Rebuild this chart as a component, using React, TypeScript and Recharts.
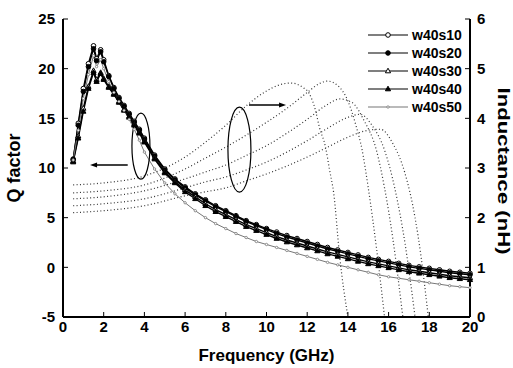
import React from 'react';
import {
  ComposedChart, Line, XAxis, YAxis, Legend, Label, ReferenceDot, ReferenceLine,
} from 'recharts';

const FONT = '"Liberation Sans", Arial, sans-serif';

// Q factor
const qFreq = [0.5, 0.75, 1, 1.25, 1.5, 1.65, 1.85, 2, 2.25, 2.5, 2.75, 3, 3.25, 3.5, 3.75, 4, 4.5, 5, 5.5, 6, 6.5, 7, 7.5, 8, 8.5, 9, 9.5, 10, 10.5, 11, 11.5, 12, 12.5, 13, 13.5, 14, 14.5, 15, 15.5, 16, 16.5, 17, 17.5, 18, 18.5, 19, 19.5, 20];
const qS10 = [10.8, 14.5, 18.0, 20.5, 22.3, 21.0, 21.9, 20.9, 19.3, 18.1, 17.1, 16.3, 15.5, 14.7, 13.9, 13.0, 11.3, 9.9, 8.9, 8.1, 7.4, 6.8, 6.2, 5.7, 5.2, 4.7, 4.3, 3.9, 3.55, 3.2, 2.9, 2.6, 2.3, 2.0, 1.75, 1.5, 1.25, 1.0, 0.8, 0.6, 0.4, 0.2, 0.05, -0.1, -0.25, -0.4, -0.5, -0.6];
const qS20 = [10.9, 14.3, 17.7, 20.2, 22.0, 20.8, 21.7, 20.7, 19.2, 18.0, 17.0, 16.2, 15.4, 14.6, 13.8, 12.9, 11.2, 9.8, 8.8, 8.0, 7.3, 6.7, 6.1, 5.6, 5.1, 4.6, 4.2, 3.8, 3.4, 3.05, 2.75, 2.45, 2.15, 1.85, 1.6, 1.35, 1.1, 0.85, 0.65, 0.45, 0.25, 0.05, -0.1, -0.25, -0.4, -0.55, -0.65, -0.75];
const qS30 = [10.7, 13.2, 16.0, 18.2, 19.8, 18.9, 19.6, 19.0, 18.2, 17.5, 16.7, 15.9, 15.2, 14.4, 13.6, 12.7, 11.0, 9.6, 8.6, 7.8, 7.1, 6.4, 5.8, 5.3, 4.8, 4.3, 3.9, 3.5, 3.1, 2.75, 2.45, 2.15, 1.85, 1.55, 1.3, 1.05, 0.8, 0.55, 0.35, 0.15, -0.05, -0.25, -0.4, -0.55, -0.7, -0.85, -0.95, -1.05];
const qS40 = [10.6, 13.0, 15.7, 18.0, 19.6, 18.7, 19.5, 18.9, 18.1, 17.4, 16.6, 15.8, 15.1, 14.3, 13.5, 12.6, 10.9, 9.5, 8.5, 7.6, 6.9, 6.2, 5.6, 5.1, 4.6, 4.1, 3.7, 3.3, 2.9, 2.55, 2.25, 1.95, 1.65, 1.35, 1.1, 0.85, 0.6, 0.35, 0.15, -0.05, -0.25, -0.45, -0.6, -0.75, -0.9, -1.05, -1.15, -1.25];
const qS50 = [10.8, 13.8, 17.0, 19.4, 21.3, 20.2, 20.9, 20.0, 18.7, 17.6, 16.7, 15.8, 14.9, 13.9, 12.8, 11.6, 9.9, 8.5, 7.4, 6.5, 5.7, 5.0, 4.4, 3.9, 3.4, 3.0, 2.6, 2.3, 2.0, 1.7, 1.4, 1.1, 0.8, 0.5, 0.25, 0.0, -0.25, -0.5, -0.75, -0.95, -1.1, -1.25, -1.4, -1.55, -1.7, -1.85, -1.95, -2.05];

// Inductance (nH)
const lFreq10 = [0.5, 2, 4, 6, 7, 8, 9, 10, 10.6, 11.2, 11.8, 12.1, 12.4, 12.6, 12.9, 13.1, 13.3, 13.6, 14.0];
const lS10 = [2.66, 2.70, 2.84, 3.22, 3.52, 3.86, 4.25, 4.55, 4.67, 4.71, 4.62, 4.5, 4.17, 3.82, 3.42, 2.96, 2.5, 1.2, 0];
const lFreq20 = [0.5, 2, 4, 6, 7, 8, 9, 10, 11, 12, 12.6, 13.0, 13.5, 14.0, 14.4, 14.7, 15.0, 15.4, 15.8];
const lS20 = [2.50, 2.54, 2.66, 2.98, 3.2, 3.42, 3.66, 3.92, 4.2, 4.52, 4.70, 4.75, 4.66, 4.35, 3.85, 3.36, 2.6, 1.4, 0];
const lFreq30 = [0.5, 2, 4, 6, 7, 8, 9, 10, 11, 12, 13, 13.6, 14.2, 14.8, 15.4, 15.8, 16.2, 16.7];
const lS30 = [2.38, 2.42, 2.54, 2.78, 2.92, 3.06, 3.25, 3.45, 3.7, 3.98, 4.28, 4.39, 4.32, 3.95, 3.36, 2.6, 1.6, 0];
const lFreq40 = [0.5, 2, 4, 6, 7, 8, 9, 10, 11, 12, 13, 14, 14.6, 15.2, 15.8, 16.3, 16.8, 17.3];
const lS40 = [2.24, 2.28, 2.38, 2.60, 2.72, 2.82, 2.96, 3.12, 3.32, 3.55, 3.8, 4.02, 4.08, 3.85, 3.36, 2.6, 1.5, 0];
const lFreq50 = [0.5, 2, 4, 6, 7, 8, 9, 10, 11, 12, 13, 14, 15, 15.6, 16.2, 16.8, 17.3, 17.6, 17.95];
const lS50 = [2.10, 2.14, 2.24, 2.44, 2.52, 2.60, 2.74, 2.88, 3.04, 3.22, 3.42, 3.62, 3.76, 3.78, 3.5, 2.9, 2.0, 1.2, 0];

const seriesNames = ['w40s10', 'w40s20', 'w40s30', 'w40s40', 'w40s50'];

const freqTicks = [0, 2, 4, 6, 8, 10, 12, 14, 16, 18, 20];
const freqMinor = [1, 3, 5, 7, 9, 11, 13, 15, 17, 19];
const qTicks = [-5, 0, 5, 10, 15, 20, 25];
const qMinor = [-2.5, 2.5, 7.5, 12.5, 17.5, 22.5];
const lTicks = [0, 1, 2, 3, 4, 5, 6];
const lMinor = [0.5, 1.5, 2.5, 3.5, 4.5, 5.5];

const qData = qFreq.map((f, i) => ({
  f, s10: qS10[i], s20: qS20[i], s30: qS30[i], s40: qS40[i], s50: qS50[i],
}));
const lData = (fs: number[], vs: number[]) => fs.map((f, i) => ({ f, l: vs[i] }));
const inductance = [
  lData(lFreq10, lS10), lData(lFreq20, lS20), lData(lFreq30, lS30),
  lData(lFreq40, lS40), lData(lFreq50, lS50),
];

type Mark = 'circleOpen' | 'circle' | 'triOpen' | 'tri' | 'small';
const marks: Mark[] = ['circleOpen', 'circle', 'triOpen', 'tri', 'small'];
const qKeys = ['s10', 's20', 's30', 's40', 's50'];

const marker = (kind: Mark, cx: number, cy: number, key?: React.Key) => {
  const ink = kind === 'small' ? '#777' : '#000';
  if (kind === 'circleOpen' || kind === 'circle') {
    return <circle key={key} cx={cx} cy={cy} r={2.3} fill={kind === 'circle' ? '#000' : '#fff'} stroke={ink} strokeWidth={1} />;
  }
  if (kind === 'triOpen' || kind === 'tri') {
    return (
      <path key={key} d={`M${cx},${cy - 2.8}L${cx + 2.6},${cy + 1.8}L${cx - 2.6},${cy + 1.8}Z`}
        fill={kind === 'tri' ? '#000' : '#fff'} stroke={ink} strokeWidth={1} />
    );
  }
  return <circle key={key} cx={cx} cy={cy} r={1.2} fill="#fff" stroke={ink} strokeWidth={0.8} />;
};

const dotFor = (kind: Mark) => (p: any) => marker(kind, p.cx, p.cy, `${kind}-${p.index}`);

const tickStyle = { fill: '#000', fontSize: 15, fontWeight: 700, fontFamily: FONT };
const axisLine = { stroke: '#000', strokeWidth: 2 };

const LegendBox = () => (
  <svg width={110} height={92} style={{ display: 'block' }}>
    {seriesNames.map((name, i) => {
      const y = 9 + i * 18;
      const ink = i === 4 ? '#777' : '#000';
      return (
        <g key={name}>
          <line x1={6} x2={46} y1={y} y2={y} stroke={ink} strokeWidth={1.2} />
          {marker(marks[i], 26, y)}
          <text x={50} y={y + 5} fontFamily={FONT} fontSize={14} fontWeight={700} fill="#000">{name}</text>
        </g>
      );
    })}
  </svg>
);

const Ellipse = (rx: number, ry: number) => (p: any) => (
  <ellipse cx={p.cx} cy={p.cy} rx={rx} ry={ry} fill="none" stroke="#000" strokeWidth={1.2} />
);

const Head = (dir: 1 | -1) => (p: any) => (
  <path d={`M${p.cx},${p.cy}L${p.cx - dir * 7},${p.cy - 2.5}L${p.cx - dir * 7},${p.cy + 2.5}Z`} fill="#000" />
);

export default function App() {
  return (
    <div style={{ width: 513, height: 368, background: '#fff', fontFamily: FONT }}>
      <style>{'body{margin:0;background:#fff}'}</style>
      <ComposedChart width={513} height={368} data={qData} margin={{ top: 19, right: 0, bottom: 0, left: 0 }}>
        <XAxis xAxisId="x" dataKey="f" type="number" domain={[0, 20]} ticks={freqTicks} interval={0}
          height={51} stroke="#000" axisLine={axisLine} tickSize={-5} tickMargin={9} tick={tickStyle}>
          <Label content={({ viewBox }: any) => (
            <text x={viewBox.x + viewBox.width / 2} y={361} textAnchor="middle"
              fontFamily={FONT} fontSize={17} fontWeight={700} fill="#000">Frequency (GHz)</text>
          )} />
        </XAxis>
        <XAxis xAxisId="xm" dataKey="f" type="number" domain={[0, 20]} ticks={freqMinor} interval={0}
          height={0} stroke="#000" axisLine={false} tickSize={-3} tick={false} />
        <XAxis xAxisId="top" orientation="top" dataKey="f" type="number" domain={[0, 20]} ticks={freqTicks} interval={0}
          height={0} stroke="#000" axisLine={axisLine} tickSize={-5} tick={false} />
        <XAxis xAxisId="topm" orientation="top" dataKey="f" type="number" domain={[0, 20]} ticks={freqMinor} interval={0}
          height={0} stroke="#000" axisLine={false} tickSize={-3} tick={false} />

        <YAxis yAxisId="q" domain={[-5, 25]} ticks={qTicks} interval={0} width={63}
          stroke="#000" axisLine={axisLine} tickSize={-5} tickMargin={13} tick={tickStyle}>
          <Label content={({ viewBox }: any) => {
            const cx = 14;
            const cy = viewBox.y + viewBox.height / 2;
            return (
              <text x={cx} y={cy} transform={`rotate(-90 ${cx} ${cy})`} textAnchor="middle" dominantBaseline="central"
                fontFamily={FONT} fontSize={18} fontWeight={700} fill="#000">Q factor</text>
            );
          }} />
        </YAxis>
        <YAxis yAxisId="qm" domain={[-5, 25]} ticks={qMinor} interval={0} width={0}
          stroke="#000" axisLine={false} tickSize={-3} tick={false} />
        <YAxis yAxisId="L" orientation="right" domain={[0, 6]} ticks={lTicks} interval={0} width={43}
          stroke="#000" axisLine={axisLine} tickSize={-5} tickMargin={12} tick={tickStyle}>
          <Label content={({ viewBox }: any) => {
            const cx = 503;
            const cy = viewBox.y + viewBox.height / 2 + 3;
            return (
              <text x={cx} y={cy} transform={`rotate(90 ${cx} ${cy})`} textAnchor="middle" dominantBaseline="central"
                fontFamily={FONT} fontSize={17} fontWeight={700} fill="#000"
                textLength={167} lengthAdjust="spacingAndGlyphs">Inductance (nH)</text>
            );
          }} />
        </YAxis>
        <YAxis yAxisId="Lm" orientation="right" domain={[0, 6]} ticks={lMinor} interval={0} width={0}
          stroke="#000" axisLine={false} tickSize={-3} tick={false} />

        {inductance.map((d, i) => (
          <Line key={`L${i}`} data={d} xAxisId="x" yAxisId="L" dataKey="l" type="monotone"
            stroke="#333" strokeWidth={1.2} strokeDasharray="1 2.4" dot={false}
            isAnimationActive={false} legendType="none" />
        ))}

        {qKeys.map((k, i) => (
          <Line key={k} xAxisId="x" yAxisId="q" dataKey={k} name={seriesNames[i]} type="linear"
            stroke={i === 4 ? '#777' : '#000'} strokeWidth={i === 4 ? 1 : 1.4}
            dot={dotFor(marks[i])} activeDot={false} isAnimationActive={false} />
        ))}

        <ReferenceDot xAxisId="x" yAxisId="q" x={3.83} y={12.2} ifOverflow="visible" shape={Ellipse(9, 33)} />
        <ReferenceLine xAxisId="x" yAxisId="q" segment={[{ x: 3.18, y: 10.3 }, { x: 1.5, y: 10.3 }]}
          stroke="#000" strokeWidth={1.5} ifOverflow="visible" />
        <ReferenceDot xAxisId="x" yAxisId="q" x={1.33} y={10.3} ifOverflow="visible" shape={Head(-1)} />

        <ReferenceDot xAxisId="x" yAxisId="L" x={8.67} y={3.37} ifOverflow="visible" shape={Ellipse(11.5, 42.5)} />
        <ReferenceLine xAxisId="x" yAxisId="L" segment={[{ x: 9.14, y: 4.27 }, { x: 10.8, y: 4.27 }]}
          stroke="#000" strokeWidth={1.5} ifOverflow="visible" />
        <ReferenceDot xAxisId="x" yAxisId="L" x={10.96} y={4.27} ifOverflow="visible" shape={Head(1)} />

        <Legend layout="vertical" align="center" verticalAlign="middle"
          wrapperStyle={{ left: 362, top: 26, width: 110, height: 92 }}
          content={() => <LegendBox />} />
      </ComposedChart>
    </div>
  );
}
